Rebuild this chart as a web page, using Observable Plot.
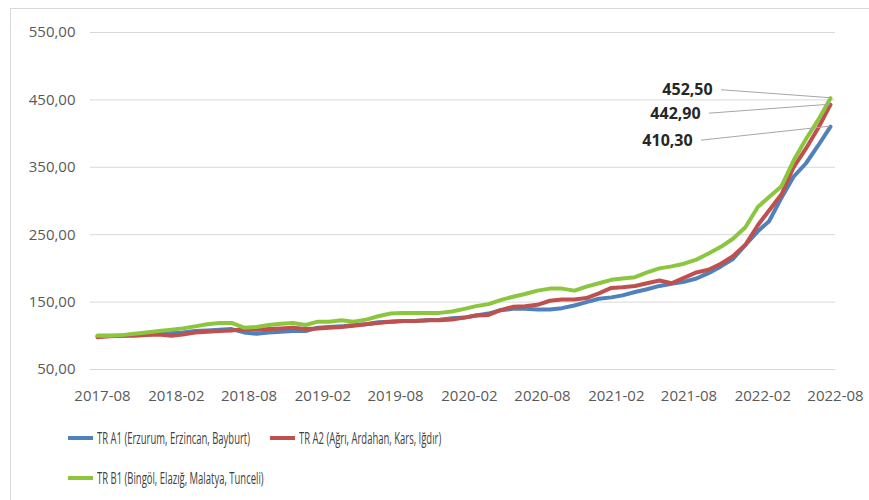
<!DOCTYPE html>
<html>
<head>
<meta charset="utf-8">
<script src="https://cdn.jsdelivr.net/npm/d3@7"></script>
<script src="https://cdn.jsdelivr.net/npm/@observablehq/plot@0.6"></script>
<style>
  html, body { margin: 0; padding: 0; background: #fff; }
  #wrap { position: relative; width: 869px; height: 500px; overflow: hidden; font-family: "Open Sans", sans-serif; }
  #frame { position: absolute; left: 10px; top: 8px; width: 880px; height: 520px; border: 1px solid #d9d9d9; box-sizing: border-box; }
  #chart { position: absolute; left: 0; top: 0; }
  .leg { position: absolute; display: flex; align-items: center; font-family: "Open Sans", sans-serif; font-size: 16px; color: #404040; white-space: nowrap; }
  .leg .sw { width: 25px; height: 4px; margin-right: 4px; flex: none; }
  .leg .tx { display: inline-block; transform-origin: left center; }
</style>
</head>
<body>
<div id="wrap">
  <div id="frame"></div>
  <div id="chart"></div>
</div>
<script>
// ---- data ----
const seriesNames = [
  "TR A1 (Erzurum, Erzincan, Bayburt)",
  "TR A2 (Ağrı, Ardahan, Kars, Iğdır)",
  "TR B1 (Bingöl, Elazığ, Malatya, Tunceli)"
];
const seriesColors = ["#4f81bd", "#c0504d", "#8cc63f"];
const xTickLabels = ["2017-08","2018-02","2018-08","2019-02","2019-08","2020-02","2020-08","2021-02","2021-08","2022-02","2022-08"];
const yTicks = [50, 150, 250, 350, 450, 550];

// monthly values 2017-08 .. 2022-08
const trA1 = [100,100,100,101,102,104,104,105,107,108,109,110,105,103,105,106,107,107,112,113,114,116,117,120,121,122,122,123,124,126,127,130,133,138,140,140,139,139,141,145,150,155,157,160,165,169,174,177,180,185,193,203,214,235,255,270,305,336,356,382,410.3];
const trA2 = [98,99.5,100,100,101,102,100,102,105,106,107,108,110,109,110,111,112,110,111,112,113,115,117,119,121,122,122,123,123,124,127,130,131,138,143,144,146,152,154,154,156,163,171,172,174,178,182,178,186,194,198,207,218,235,264,286,310,350,378,408,442.9];
const trB1 = [100,100,101,103,105,107,109,111,114,117,119,119,112,113,116,118,119,116,121,121,123,121,124,129,133,134,134,134,134,136,140,144,147,153,158,162,167,170,170,167,173,178,183,185,187,194,200,203,207,213,222,232,244,261,291,306,322,360,392,420,452.5];

// ---- build table ----
const months = d3.utcMonth.range(new Date(Date.UTC(2017, 7, 1)), new Date(Date.UTC(2022, 8, 1)));
const allSeries = [trA1, trA2, trB1];
const rows = [];
allSeries.forEach((vals, s) => vals.forEach((v, i) => rows.push({date: months[i], value: v, series: seriesNames[s]})));
const tickDates = xTickLabels.map(t => new Date(Date.UTC(+t.slice(0,4), +t.slice(5,7) - 1, 1)));
const fmt = v => d3.format(".2f")(v).replace(".", ",");
const ends = allSeries.map((vals, s) => ({date: months[vals.length - 1], value: vals[vals.length - 1], series: seriesNames[s]}));
// label offsets (pixels) for the end labels
const labelOffsets = {
  [seriesNames[2]]: {dx: -143, dy: -8},
  [seriesNames[1]]: {dx: -155, dy: 9},
  [seriesNames[0]]: {dx: -163, dy: 14}
};

const chart = Plot.plot({
  width: 869,
  height: 420,
  marginLeft: 90,
  marginRight: 34,
  marginTop: 32,
  marginBottom: 51,
  insetLeft: 7,
  insetRight: 5,
  style: {fontFamily: "Open Sans, sans-serif", fontSize: "15px", color: "#595959", background: "transparent"},
  x: {type: "utc", domain: [months[0], months[months.length - 1]], label: null},
  y: {domain: [50, 550], label: null},
  color: {domain: seriesNames, range: seriesColors},
  marks: [
    Plot.ruleY(yTicks, {stroke: "#d9d9d9", strokeWidth: 1}),
    Plot.axisX({ticks: tickDates, tickFormat: d => d3.utcFormat("%Y-%m")(d), tickSize: 0, tickPadding: 21, dx: 5, fontSize: 15, fill: "#595959", label: null}),
    Plot.axisY({ticks: yTicks, tickFormat: fmt, tickSize: 0, tickPadding: 15, fontSize: 15, fill: "#595959", label: null}),
    Plot.line(rows, {x: "date", y: "value", z: "series", stroke: "series", strokeWidth: 4, curve: "linear", strokeLinejoin: "round"}),
    ...ends.map(e => Plot.text([e], {x: "date", y: "value", text: d => fmt(d.value), dx: labelOffsets[e.series].dx, dy: labelOffsets[e.series].dy, fontWeight: "bold", fontSize: 16, fill: "#262626", textAnchor: "middle"}))
  ]
});
document.getElementById("chart").appendChild(chart);

// leader lines from labels to end points, via Plot's scales
const xs = chart.scale("x"), ys = chart.scale("y");
const svg = d3.select(chart);
ends.forEach(e => {
  const o = labelOffsets[e.series];
  const px = xs.apply(e.date), py = ys.apply(e.value);
  svg.append("line")
    .attr("x1", px + o.dx + 34).attr("y1", py + o.dy)
    .attr("x2", px).attr("y2", py)
    .attr("stroke", "#a6a6a6").attr("stroke-width", 1);
});

// legend (text condensed horizontally to mimic the narrow source font)
const wrap = document.getElementById("wrap");
const legPos = [[68, 438], [270, 438], [68, 478]];
const texts = [];
seriesNames.forEach((n, i) => {
  const d = document.createElement("div");
  d.className = "leg";
  d.style.left = legPos[i][0] + "px";
  d.style.top = (legPos[i][1] - 10) + "px";
  d.style.height = "20px";
  d.innerHTML = `<span class="sw" style="background:${seriesColors[i]}"></span><span class="tx">${n}</span>`;
  wrap.appendChild(d);
  texts.push(d.querySelector(".tx"));
});
const k = 153 / texts[0].getBoundingClientRect().width;
texts.forEach(t => t.style.transform = `scaleX(${k})`);
</script>
</body>
</html>
